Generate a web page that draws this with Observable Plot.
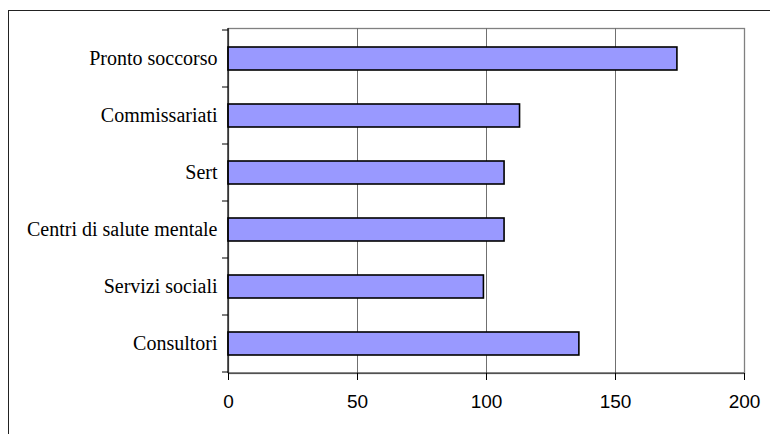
<!DOCTYPE html>
<html>
<head>
<meta charset="utf-8">
<script src="https://cdn.jsdelivr.net/npm/d3@7"></script>
<script src="https://cdn.jsdelivr.net/npm/@observablehq/plot@0.6"></script>
<style>
  html, body { margin: 0; padding: 0; background: #fff; }
  #wrap { position: relative; width: 770px; height: 434px; overflow: hidden; background: #fff; }
  #border { position: absolute; left: 8px; top: 10px; width: 900px; height: 600px; border: 1px solid #222; box-sizing: border-box; }
  #chart { position: absolute; left: 0; top: 0; }
  #chart g[aria-label="y-axis tick label"] text { font-family: "Liberation Serif", "Times New Roman", serif !important; font-size: 20px !important; }
  #chart g[aria-label="x-axis tick label"] text { font-family: "Liberation Sans", Arial, sans-serif !important; font-size: 19px !important; }
</style>
</head>
<body>
<div id="wrap"><div id="border"></div><div id="chart"></div></div>
<script>
const categories = ["Pronto soccorso", "Commissariati", "Sert", "Centri di salute mentale", "Servizi sociali", "Consultori"];
const values = [174, 113, 107, 107, 99, 136];
const xTicks = [0, 50, 100, 150, 200];

const data = categories.map((c, i) => ({category: c, value: values[i]}));

function boundaryTicks(index, scales, vals, dims) {
  const y = scales.y, x = scales.x;
  const g = d3.create("svg:g");
  const bw = y.bandwidth();
  const pos = categories.map(c => y(c));
  const step = pos.length > 1 ? pos[1] - pos[0] : bw;
  const gap = (step - bw) / 2;
  const bounds = pos.map(p => p - gap);
  bounds.push(pos[pos.length - 1] + bw + gap);
  const x0 = x(0);
  for (const b of bounds) {
    g.append("line").attr("x1", x0 - 6).attr("x2", x0).attr("y1", b).attr("y2", b)
      .attr("stroke", "#000").attr("stroke-width", 1);
  }
  const yb = dims.height - dims.marginBottom;
  g.append("line").attr("x1", dims.marginLeft).attr("x2", dims.width - dims.marginRight)
    .attr("y1", yb).attr("y2", yb).attr("stroke", "#222").attr("stroke-width", 1.2);
  g.append("line").attr("x1", x0).attr("x2", x0)
    .attr("y1", dims.marginTop).attr("y2", yb).attr("stroke", "#000").attr("stroke-width", 1.2);
  return g.node();
}

const chart = Plot.plot({
  width: 770,
  height: 434,
  marginLeft: 228,
  marginRight: 26,
  marginTop: 28,
  marginBottom: 61,
  style: {background: "transparent", color: "#000"},
  x: {domain: [0, 200]},
  y: {domain: categories, paddingInner: 0.6, paddingOuter: 0.3},
  marks: [
    Plot.frame({stroke: "#808080", strokeWidth: 1.3}),
    Plot.ruleX(xTicks.filter(d => d > 0 && d < 200), {stroke: "#707070", strokeWidth: 1}),
    Plot.barX(data, {x: "value", y: "category", fill: "#9999FF", stroke: "#000", strokeWidth: 1.6}),
    boundaryTicks,
    Plot.axisY({tickSize: 0, tickPadding: 11, fontFamily: "Liberation Serif", fontSize: 20, label: null, fill: "#000"}),
    Plot.axisX({ticks: xTicks, tickSize: 7, tickPadding: 14, fontFamily: "Liberation Sans", fontSize: 19, label: null, tickFormat: d => String(d), fill: "#000", stroke: "#000"})
  ]
});
document.getElementById("chart").appendChild(chart);
</script>
</body>
</html>
